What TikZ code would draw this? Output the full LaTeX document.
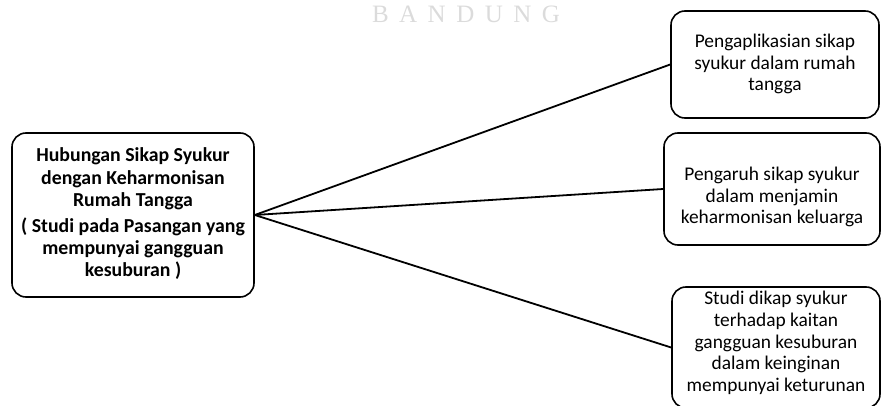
\documentclass[tikz,border=0pt]{standalone}
\usepackage{fontspec}
\setmainfont{Carlito}
\newfontfamily\wmfont[LetterSpace=42]{Liberation Serif}
\begin{document}
\begin{tikzpicture}[x=1pt,y=-1pt,
  boxstyle/.style={draw=black,line width=1.6pt,rounded corners=14pt,inner sep=0pt},
  txtstyle/.style={align=center,inner sep=0pt,font=\fontsize{19.4}{21.6}\selectfont},
  linkstyle/.style={draw=black,line width=1.8pt}]
\useasboundingbox (0,0) rectangle (881,406);
\node[text=black!14,font=\wmfont\fontsize{25}{25}\selectfont,inner sep=0pt] (wm) at (466,14) {BANDUNG};
\node[boxstyle,minimum width=242pt,minimum height=164pt] (L) at (133,215) {};
\node[txtstyle,font=\bfseries\fontsize{19.8}{22.4}\selectfont] (Lt) at (133,214) {Hubungan Sikap Syukur\\dengan Keharmonisan\\Rumah Tangga\\[3pt]( Studi pada Pasangan yang\\mempunyai gangguan\\kesuburan )};
\node[boxstyle,minimum width=208pt,minimum height=107pt] (A) at (775,64.5) {};
\node[txtstyle] (At) at (775,64) {Pengaplikasian sikap\\syukur dalam rumah\\tangga};
\node[boxstyle,minimum width=216pt,minimum height=112pt] (B) at (772,189) {};
\node[txtstyle] (Bt) at (772,197) {Pengaruh sikap syukur\\dalam menjamin\\keharmonisan keluarga};
\node[boxstyle,minimum width=208pt,minimum height=121pt] (C) at (776,347.5) {};
\node[txtstyle] (Ct) at (776,343) {Studi dikap syukur\\terhadap kaitan\\gangguan kesuburan\\dalam keinginan\\mempunyai keturunan};
\draw[linkstyle] (L.east) -- (A.west);
\draw[linkstyle] (L.east) -- (B.west);
\draw[linkstyle] (L.east) -- (C.west);
\end{tikzpicture}
\end{document}
